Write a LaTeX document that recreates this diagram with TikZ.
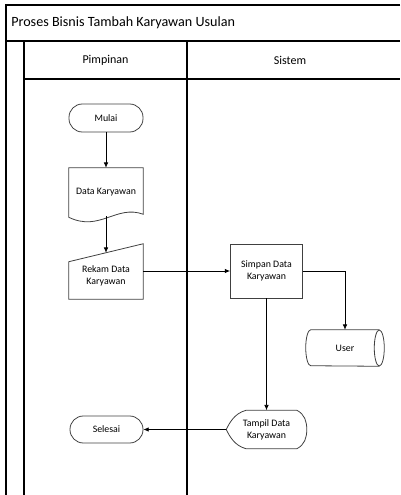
\documentclass[tikz,border=0pt]{standalone}
\usepackage{fontspec}
\setmainfont{Carlito}
\usetikzlibrary{calc,arrows.meta}
\definecolor{shapegray}{gray}{0.25}

\begin{document}
\begin{tikzpicture}[x=0.75pt,y=-0.75pt,
    lane/.style={draw=black,line width=1.1pt},
    outline/.style={draw=shapegray,line width=0.6pt},
    box/.style={minimum width=55.5pt,align=center,inner sep=0pt,
      font=\fontsize{7.4}{9}\selectfont},
    term/.style={box,outline,rounded corners=10pt,minimum height=21pt},
    flow/.style={-{Latex[length=4pt,width=3.5pt]},line width=0.6pt}]
          \useasboundingbox (0,0) rectangle (400,495);

          \draw[lane] (400,5) -- (6,5) -- (6,495);
          \draw[lane] (6,41) -- (400,41);
          \draw[lane] (24,79) -- (400,79);
          \draw[lane] (24,41) -- (24,495);
          \draw[lane] (187,41) -- (187,495);
          \node[anchor=west,inner sep=0pt,font=\fontsize{10.6}{12}\selectfont] (judul) at (11,23) {Proses Bisnis Tambah Karyawan Usulan};
          \node[font=\fontsize{9}{11}\selectfont] (pimpinan) at (105.5,60) {Pimpinan};
          \node[font=\fontsize{9}{11}\selectfont] (sistem) at (290,60) {Sistem};

          \node[term] (mulai) at (106,118) {Mulai};
          \node[box,minimum height=36pt] (data) at (106,192) {Data Karyawan};
          \draw[outline] (data.north west) -- (data.north east) -- ($(data.south east)+(0,-2)$)
                .. controls ($(data.south east)+(-27,-12)$) and ($(data.south west)+(31,16)$)
                .. ($(data.south west)+(0,1)$) -- cycle;
          \node[box,minimum height=34.5pt] (rekam) at (106,276) {Rekam Data\\Karyawan};
          \draw[outline] (rekam.south west) -- (rekam.south east) -- ($(rekam.north east)+(0,-9)$)
                -- ($(rekam.north west)+(0,9)$) -- cycle;
          \node[term,minimum width=54.75pt,minimum height=20.25pt] (selesai) at (106.5,429.5) {Selesai};

          \node[box,outline,minimum width=54pt,minimum height=40.5pt] (simpan) at (266.5,271) {Simpan Data\\Karyawan};
          \node[box,minimum width=58.5pt,minimum height=27pt] (user) at (345,348) {User};
          \draw[outline] ($(user.north east)+(-5,0)$) -- ($(user.north west)+(5,0)$)
                arc[start angle=90,end angle=270,x radius=3.75pt,y radius=13.5pt]
                -- ($(user.south east)+(-5,0)$);
          \draw[outline] ($(user.east)+(-5,0)$) ellipse[x radius=3.75pt,y radius=13.5pt];
          \node[box,minimum width=60pt,minimum height=28.5pt] (tampil) at (266.5,429.5) {Tampil Data\\Karyawan};
          \draw[outline] ($(tampil.north west)+(20,0)$) -- ($(tampil.north east)+(-10,0)$)
                .. controls ($(tampil.north east)+(-2,4)$) and ($(tampil.east)+(0,-8)$) .. (tampil.east)
                .. controls ($(tampil.east)+(0,8)$) and ($(tampil.south east)+(-2,-4)$) .. ($(tampil.south east)+(-10,0)$)
                -- ($(tampil.south west)+(20,0)$)
                .. controls ($(tampil.south west)+(8,-3)$) and ($(tampil.west)+(3,6)$) .. (tampil.west)
                .. controls ($(tampil.west)+(3,-6)$) and ($(tampil.north west)+(8,3)$) .. cycle;

          \draw[flow] (mulai) -- (data);
          \draw[flow] (data) -- (rekam);
          \draw[flow] (rekam.east |- simpan.west) -- (simpan.west);
          \draw[flow] (simpan.east) -| (user.north);
          \draw[flow] (simpan) -- (tampil);
          \draw[flow] (tampil) -- (selesai);
      \end{tikzpicture}
\end{document}
